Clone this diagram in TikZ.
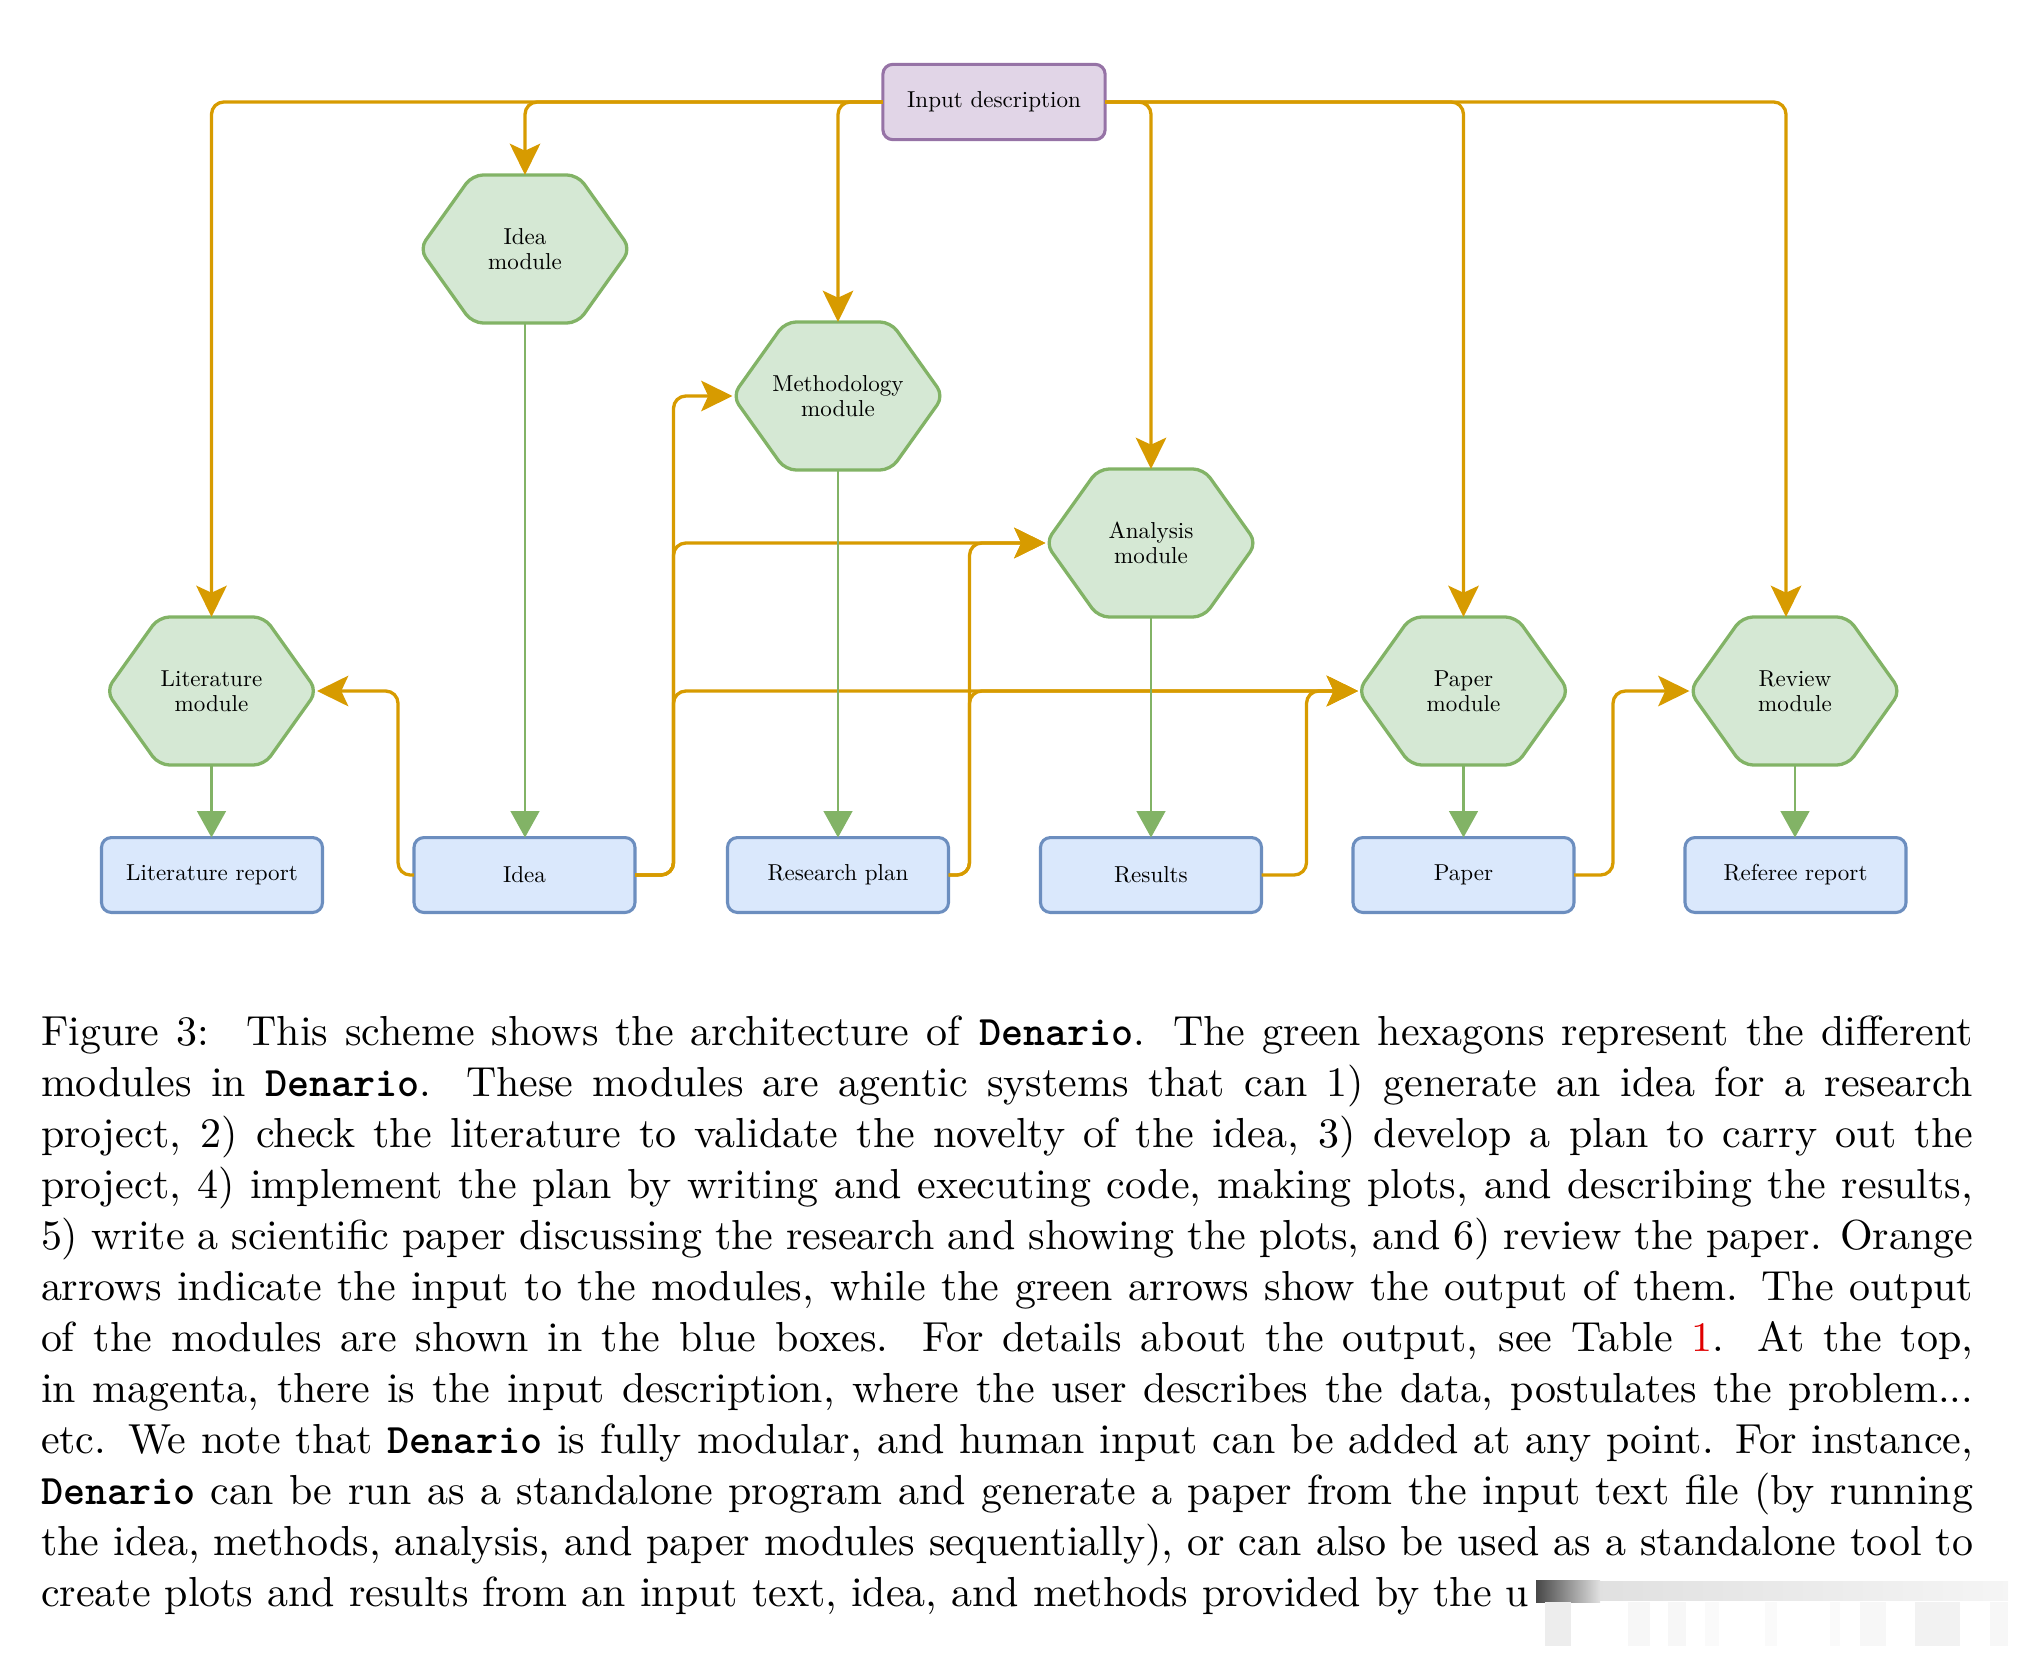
\documentclass[tikz,border=0pt]{standalone}
\usepackage{fontspec}
\newfontfamily\dfont{lmroman10-regular.otf}
\usetikzlibrary{arrows.meta,backgrounds,calc}
\definecolor{orng}{HTML}{D79B00}
\definecolor{grn}{HTML}{82B366}
\definecolor{hexfill}{HTML}{D5E8D4}
\definecolor{bluefill}{HTML}{DAE8FC}
\definecolor{bluedraw}{HTML}{6C8EBF}
\definecolor{purpfill}{HTML}{E1D5E7}
\definecolor{purpdraw}{HTML}{9673A6}
\definecolor{linkred}{HTML}{E00000}
\newlength\mycapw \setlength\mycapw{469.5pt}
\newcommand\dn{\texttt{\bfseries Denario}}
\newcommand\drawhex[1]{%
  \draw[hexline] (#1.west) -- ($(#1.north west)!.25!(#1.north east)$) -- ($(#1.north west)!.75!(#1.north east)$) -- (#1.east) -- ($(#1.south west)!.75!(#1.south east)$) -- ($(#1.south west)!.25!(#1.south east)$) -- cycle;}
\tikzset{
  dtext/.style={font=\dfont\fontsize{5.6}{6}\selectfont, align=center},
  hexmod/.style={dtext, minimum width=51.27pt, minimum height=35.96pt, inner sep=0pt, outer sep=0pt},
  hexline/.style={draw=grn, fill=hexfill, line width=0.8pt, rounded corners=2.6pt, line join=round},
  outbox/.style={dtext, draw=bluedraw, fill=bluefill, line width=0.75pt, rounded corners=2.4pt, minimum width=53.7pt, minimum height=18.2pt, inner sep=0pt, outer sep=0pt},
  inbox/.style={dtext, draw=purpdraw, fill=purpfill, line width=0.75pt, rounded corners=2.4pt, minimum width=54pt, minimum height=18.3pt, inner sep=0pt, outer sep=0pt},
  inarr/.style={draw=orng, line width=0.8pt, rounded corners=3pt, -{Stealth[length=7.6pt,width=7.4pt,inset=1.7pt]}},
  outarr/.style={draw=grn, line width=0.7pt, -{Triangle[length=6.4pt,width=6.9pt]}},
  capline/.style={anchor=base west, inner sep=0pt, outer sep=0pt, font=\fontsize{10.2}{12.4}\selectfont}
}
\begin{document}
\begin{tikzpicture}[x=0.243pt, y=-0.243pt]
\useasboundingbox (0,0) rectangle (2026,1662);
% nodes
\node[inbox] (inp) at (994,102) {Input description};
\node[hexmod] (idea) at (525,249) {Idea\\module};
\node[hexmod] (meth) at (838,396) {Methodology\\module};
\node[hexmod] (ana) at (1151,543) {Analysis\\module};
\node[hexmod] (lit) at (211.5,691) {Literature\\module};
\node[hexmod] (pap) at (1463.5,691) {Paper\\module};
\node[hexmod] (rev) at (1795,691) {Review\\module};
\node[outbox] (litrep) at (212,875) {Literature report};
\node[outbox] (ideab) at (524.5,875) {Idea};
\node[outbox] (plan) at (838,875) {Research plan};
\node[outbox] (res) at (1151,875) {Results};
\node[outbox] (paperb) at (1463.5,875) {Paper};
\node[outbox] (ref) at (1795.5,875) {Referee report};
\coordinate (revin) at (1786,617);
\begin{scope}[on background layer]
  \drawhex{idea}\drawhex{meth}\drawhex{ana}\drawhex{lit}\drawhex{pap}\drawhex{rev}
\end{scope}
% input arrows
\draw[inarr] (inp.west) -| (lit.north);
\draw[inarr] (inp.west) -| (idea.north);
\draw[inarr] (inp.west) -| (meth.north);
\draw[inarr] (inp.east) -| (ana.north);
\draw[inarr] (inp.east) -| (pap.north);
\draw[inarr] (inp.east) -| (revin);
\draw[inarr] (ideab.west) -- ++(-16,0) |- (lit.east);
\draw[inarr] (ideab.east) -- ++(38.5,0) |- (meth.west);
\draw[inarr] (ideab.east) -- ++(38.5,0) |- (ana.west);
\draw[inarr] (ideab.east) -- ++(38.5,0) |- (pap.west);
\draw[inarr] (plan.east) -- ++(21,0) |- (ana.west);
\draw[inarr] (plan.east) -- ++(21,0) |- (pap.west);
\draw[inarr] (res.east) -- ++(45,0) |- (pap.west);
\draw[inarr] (paperb.east) -- ++(39,0) |- (rev.west);
% output arrows
\draw[outarr] (lit.south) -- (lit.south |- litrep.north);
\draw[outarr] (idea.south) -- (idea.south |- ideab.north);
\draw[outarr] (meth.south) -- (meth.south |- plan.north);
\draw[outarr] (ana.south) -- (ana.south |- res.north);
\draw[outarr] (pap.south) -- (pap.south |- paperb.north);
\draw[outarr] (rev.south) -- (rev.south |- ref.north);
% caption
\node[capline] (c1) at (41,1045.5) {\hbox to\mycapw{Figure 3:\hspace{3pt} This scheme shows the architecture of \dn. The green hexagons represent the different}};
\node[capline] (c2) at (41,1096.5) {\hbox to\mycapw{modules in \dn. These modules are agentic systems that can 1) generate an idea for a research}};
\node[capline] (c3) at (41,1147.5) {\hbox to\mycapw{project, 2) check the literature to validate the novelty of the idea, 3) develop a plan to carry out the}};
\node[capline] (c4) at (41,1198.5) {\hbox to\mycapw{project, 4) implement the plan by writing and executing code, making plots, and describing the results,}};
\node[capline] (c5) at (41,1249.5) {\hbox to\mycapw{5) write a scientific paper discussing the research and showing the plots, and 6) review the paper. Orange}};
\node[capline] (c6) at (41,1300.5) {\hbox to\mycapw{arrows indicate the input to the modules, while the green arrows show the output of them. The output}};
\node[capline] (c7) at (41,1351.5) {\hbox to\mycapw{of the modules are shown in the blue boxes. For details about the output, see Table \textcolor{linkred}{1}. At the top,}};
\node[capline] (c8) at (41,1402.5) {\hbox to\mycapw{in magenta, there is the input description, where the user describes the data, postulates the problem...}};
\node[capline] (c9) at (41,1453.5) {\hbox to\mycapw{etc. We note that \dn\ is fully modular, and human input can be added at any point. For instance,}};
\node[capline] (c10) at (41,1504.5) {\hbox to\mycapw{\dn\ can be run as a standalone program and generate a paper from the input text file (by running}};
\node[capline] (c11) at (41,1555.5) {\hbox to\mycapw{the idea, methods, analysis, and paper modules sequentially), or can also be used as a standalone tool to}};
\node[capline] (c12) at (41,1606.5) {create plots and results from an input text, idea, and methods provided by the u};
% watermark smudge
\fill[left color=black!72, right color=black!12] (1536,1580) rectangle (1600,1602);
\fill[left color=black!12, right color=black!4] (1600,1581) rectangle (2008,1600);
\foreach \wx/\ww/\wc in {1545/26/7,1628/22/3,1668/18/3,1705/14/2,1765/12/2,1830/10/2,1860/26/3,1915/45/5,1990/18/3}
  \fill[black!\wc] (\wx,1602) rectangle ++(\ww,44);
\end{tikzpicture}
\end{document}
